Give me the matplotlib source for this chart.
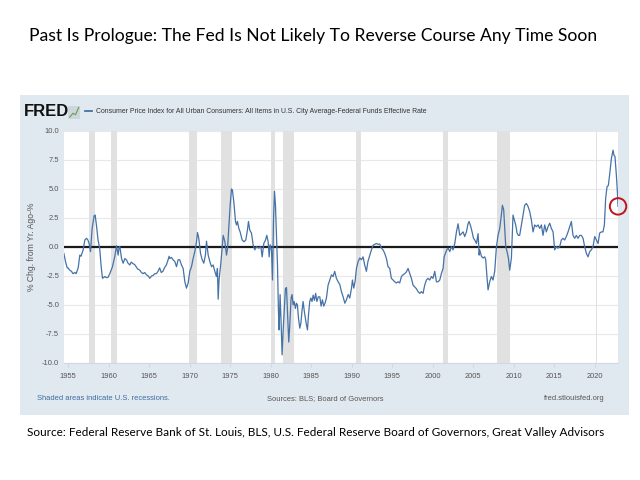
import matplotlib
matplotlib.use("Agg")
import matplotlib.pyplot as plt
from matplotlib.patches import Rectangle

# CPI yoy % change minus Fed funds rate (decimal years)
years = [
    1954.48, 1954.7, 1954.9, 1955.0, 1955.2, 1955.43, 1955.6, 1955.84, 1956.0, 1956.25,
    1956.45, 1956.6, 1956.86, 1957.07, 1957.28, 1957.45, 1957.6, 1957.77, 1957.97, 1958.22,
    1958.34, 1958.5, 1958.7, 1958.9, 1959.1, 1959.25, 1959.54, 1959.75, 1959.95, 1960.15,
    1960.48, 1960.77, 1960.98, 1961.18, 1961.3, 1961.39, 1961.6, 1961.8, 1962.0, 1962.2,
    1962.4, 1962.62, 1962.8, 1963.03, 1963.2, 1963.4, 1963.6, 1963.85, 1964.05, 1964.26,
    1964.45, 1964.68, 1964.9, 1965.09, 1965.3, 1965.5, 1965.7, 1965.9, 1966.1, 1966.3,
    1966.5, 1966.7, 1966.9, 1967.13, 1967.3, 1967.47, 1967.55, 1967.76, 1967.95, 1968.17,
    1968.38, 1968.58, 1968.78, 1968.99, 1969.2, 1969.41, 1969.61, 1969.82, 1970.02, 1970.23,
    1970.43, 1970.64, 1970.85, 1970.97, 1971.13, 1971.34, 1971.55, 1971.75, 1971.95, 1972.08,
    1972.29, 1972.49, 1972.7, 1972.9, 1973.11, 1973.31, 1973.43, 1973.52, 1973.64, 1973.85,
    1974.01, 1974.14, 1974.35, 1974.55, 1974.68, 1974.83, 1975.0, 1975.16, 1975.28, 1975.45,
    1975.66, 1975.78, 1975.9, 1976.07, 1976.23, 1976.48, 1976.7, 1976.93, 1977.13, 1977.26,
    1977.42, 1977.63, 1977.84, 1978.04, 1978.25, 1978.54, 1978.79, 1978.95, 1979.15, 1979.36,
    1979.52, 1979.69, 1979.81, 1979.93, 1980.1, 1980.22, 1980.35, 1980.47, 1980.59, 1980.71,
    1980.84, 1980.96, 1981.04, 1981.16, 1981.28, 1981.41, 1981.53, 1981.66, 1981.82, 1981.95,
    1982.07, 1982.23, 1982.35, 1982.52, 1982.64, 1982.77, 1982.9, 1983.05, 1983.18, 1983.3,
    1983.43, 1983.59, 1983.72, 1983.88, 1984.0, 1984.16, 1984.28, 1984.41, 1984.54, 1984.66,
    1984.82, 1984.95, 1985.1, 1985.24, 1985.4, 1985.55, 1985.7, 1985.87, 1986.06, 1986.22,
    1986.38, 1986.55, 1986.7, 1986.88, 1987.08, 1987.29, 1987.5, 1987.7, 1987.9, 1988.11,
    1988.32, 1988.53, 1988.73, 1988.94, 1989.15, 1989.35, 1989.56, 1989.76, 1989.97, 1990.09,
    1990.25, 1990.42, 1990.58, 1990.79, 1990.99, 1991.2, 1991.4, 1991.6, 1991.81, 1992.0,
    1992.23, 1992.43, 1992.64, 1992.84, 1993.05, 1993.25, 1993.46, 1993.66, 1993.87, 1994.07,
    1994.28, 1994.48, 1994.69, 1994.89, 1995.1, 1995.31, 1995.51, 1995.72, 1995.92, 1996.13,
    1996.33, 1996.54, 1996.74, 1996.95, 1997.16, 1997.36, 1997.57, 1997.77, 1997.98, 1998.18,
    1998.39, 1998.6, 1998.8, 1999.0, 1999.21, 1999.42, 1999.62, 1999.83, 2000.03, 2000.24,
    2000.45, 2000.65, 2000.86, 2001.06, 2001.27, 2001.4, 2001.56, 2001.72, 2001.89, 2002.1,
    2002.3, 2002.5, 2002.71, 2002.92, 2003.12, 2003.33, 2003.53, 2003.74, 2003.94, 2004.15,
    2004.35, 2004.48, 2004.69, 2004.85, 2005.02, 2005.18, 2005.39, 2005.59, 2005.72, 2005.79,
    2006.0, 2006.2, 2006.41, 2006.53, 2006.7, 2006.82, 2007.02, 2007.23, 2007.43, 2007.64,
    2007.85, 2008.05, 2008.26, 2008.46, 2008.59, 2008.75, 2008.87, 2009.0, 2009.16, 2009.33,
    2009.49, 2009.7, 2009.9, 2010.11, 2010.23, 2010.4, 2010.56, 2010.72, 2010.93, 2011.14,
    2011.34, 2011.55, 2011.75, 2011.96, 2012.16, 2012.37, 2012.57, 2012.78, 2012.99, 2013.19,
    2013.4, 2013.6, 2013.81, 2014.01, 2014.22, 2014.43, 2014.63, 2014.84, 2015.04, 2015.25,
    2015.45, 2015.66, 2015.86, 2016.07, 2016.27, 2016.48, 2016.69, 2016.89, 2017.1, 2017.3,
    2017.51, 2017.71, 2017.92, 2018.13, 2018.33, 2018.54, 2018.74, 2018.95, 2019.15, 2019.36,
    2019.56, 2019.77, 2019.98, 2020.18, 2020.39, 2020.59, 2020.8, 2021.0, 2021.17, 2021.33,
    2021.5, 2021.66, 2021.83, 2022.03, 2022.24, 2022.36, 2022.48, 2022.65, 2022.78, 2022.86,
]
values = [
    -0.55, -1.3, -1.8, -1.8, -2.0, -2.1, -2.3, -2.2, -2.3, -1.8,
    -0.7, -0.8, -0.25, 0.6, 0.75, 0.6, 0.3, -0.4, 1.6, 2.7,
    2.75, 1.9, 0.6, -0.1, -1.8, -2.7, -2.55, -2.65, -2.6, -2.3,
    -1.7, -0.8, 0.1, -0.7, 0.0, 0.03, -1.0, -1.4, -1.0, -1.1,
    -1.4, -1.55, -1.3, -1.45, -1.5, -1.7, -1.9, -2.0, -2.2, -2.3,
    -2.2, -2.4, -2.5, -2.7, -2.5, -2.45, -2.3, -2.3, -2.1, -1.8,
    -2.2, -2.1, -1.8, -1.55, -1.2, -0.8, -1.0, -0.9, -1.1, -1.25,
    -1.7, -1.1, -1.1, -1.55, -1.85, -3.0, -3.55, -3.1, -2.1, -1.7,
    -1.0, -0.4, 0.45, 1.25, 0.75, -0.55, -1.1, -1.4, -0.7, 0.5,
    -0.7, -1.25, -1.7, -1.55, -2.1, -2.55, -1.85, -4.5, -2.75, -1.4,
    -0.1, 1.0, 0.45, -0.7, -0.1, 1.6, 3.6, 5.0, 4.9, 3.9,
    2.2, 1.9, 2.2, 1.6, 1.3, 0.6, 0.45, 0.6, 1.45, 2.2,
    1.45, 1.2, 0.15, -0.25, 0.03, -0.1, 0.03, -0.85, 0.3, 0.6,
    1.0, 0.45, -0.85, 0.2, -0.25, -2.85, 2.4, 4.8, 3.6, 1.0,
    -1.6, -5.6, -7.15, -4.1, -6.4, -9.3, -7.3, -5.6, -3.6, -3.5,
    -5.6, -8.2, -6.8, -4.4, -4.1, -5.0, -4.7, -5.3, -4.85, -5.0,
    -6.15, -7.0, -6.6, -5.4, -4.7, -5.6, -6.15, -6.7, -7.15, -5.9,
    -4.7, -4.4, -4.7, -4.15, -4.6, -4.0, -4.7, -4.3, -4.3, -5.1,
    -4.55, -5.1, -4.85, -4.4, -3.3, -2.85, -2.4, -2.55, -2.1, -2.7,
    -3.0, -3.25, -3.85, -4.3, -4.85, -4.55, -4.1, -4.4, -3.55, -2.85,
    -3.55, -2.95, -1.85, -1.25, -0.95, -1.1, -0.85, -1.55, -2.1, -1.25,
    -0.7, -0.25, 0.15, 0.23, 0.3, 0.23, 0.25, -0.1, -0.25, -0.55,
    -1.0, -1.7, -1.85, -2.7, -2.85, -3.0, -3.1, -3.0, -3.1, -2.55,
    -2.4, -2.3, -2.15, -1.85, -2.3, -2.7, -3.3, -3.45, -3.6, -3.85,
    -4.0, -3.85, -4.0, -3.3, -2.85, -2.7, -2.85, -2.55, -2.7, -2.1,
    -3.0, -3.0, -2.85, -2.3, -1.85, -0.85, -0.55, -0.25, -0.1, -0.4,
    0.03, -0.25, 0.3, 1.3, 2.0, 1.0, 1.15, 1.3, 0.9, 1.3,
    2.0, 2.2, 1.75, 1.3, 0.75, 0.6, 0.3, 1.15, -0.7, -0.25,
    -0.8, -0.95, -0.85, -1.1, -2.7, -3.7, -3.0, -2.55, -2.85, -2.1,
    0.0, 1.0, 1.6, 2.75, 3.6, 3.2, 1.6, 0.03, -0.4, -0.95,
    -2.0, -0.95, 2.75, 2.2, 1.9, 1.2, 1.0, 1.0, 1.9, 2.75,
    3.6, 3.75, 3.5, 3.05, 2.35, 1.3, 1.9, 1.75, 1.9, 1.6,
    1.9, 1.0, 1.9, 1.3, 1.75, 2.05, 1.6, 1.3, -0.25, 0.03,
    -0.1, 0.03, 0.6, 0.75, 0.6, 0.9, 1.3, 1.75, 2.2, 1.0,
    0.75, 1.0, 0.75, 1.0, 1.0, 0.75, 0.03, -0.55, -0.85, -0.4,
    -0.25, 0.03, 0.9, 0.6, 0.3, 1.2, 1.3, 1.3, 1.9, 4.2,
    5.2, 5.3, 6.3, 7.6, 8.35, 7.9, 7.8, 6.2, 4.7, 3.5,
]

# NBER recessions (start, end) in decimal years
rec_start = [1957.6, 1960.3, 1969.95, 1973.85, 1980.0, 1981.5, 1990.5, 2001.2, 2007.95, 2020.1]
rec_end = [1958.3, 1961.1, 1970.9, 1975.2, 1980.55, 1982.9, 1991.2, 2001.9, 2009.5, 2020.3]

xticks = list(range(1955, 2021, 5))
yticks = [-10.0, -7.5, -5.0, -2.5, 0.0, 2.5, 5.0, 7.5, 10.0]

sans = "Liberation Sans"

fig = plt.figure(figsize=(6.4, 4.8), dpi=100)

# FRED panel background
fig.patches.append(Rectangle((0.03125, 0.1354), 0.9516, 0.6667, transform=fig.transFigure,
                             facecolor="#e1e9f0", edgecolor="none", zorder=-5))

fig.text(0.489, 0.926, "Past Is Prologue: The Fed Is Not Likely To Reverse Course Any Time Soon",
         ha="center", va="center", fontsize=12.65, family="Lato")
fig.text(0.042, 0.098, "Source: Federal Reserve Bank of St. Louis, BLS, U.S. Federal Reserve Board of Governors, Great Valley Advisors",
         ha="left", va="center", fontsize=8.5, family="Lato")

# FRED header
fig.text(0.038, 0.768, "FRED", ha="left", va="center", fontsize=12, fontweight="bold",
         color="#111111", family=sans)
# little chart icon next to the logo
fig.patches.append(Rectangle((0.107, 0.752), 0.018, 0.028, transform=fig.transFigure,
                             facecolor="#cdd6df", edgecolor="none"))
fig.lines.append(plt.Line2D([0.109, 0.114, 0.118, 0.123], [0.756, 0.764, 0.761, 0.776],
                            transform=fig.transFigure, color="#6f9e3f", lw=0.8))
fig.lines.append(plt.Line2D([0.133, 0.144], [0.768, 0.768], transform=fig.transFigure,
                            color="#4572a7", lw=1.3))
fig.text(0.15, 0.768, "Consumer Price Index for All Urban Consumers: All Items in U.S. City Average-Federal Funds Effective Rate",
         ha="left", va="center", fontsize=4.95, color="#333333", family=sans)

# footer inside panel
fig.text(0.058, 0.169, "Shaded areas indicate U.S. recessions.", ha="left", va="center",
         fontsize=5.4, color="#3d6a9e", family=sans)
fig.text(0.508, 0.169, "Sources: BLS; Board of Governors", ha="center", va="center",
         fontsize=5.4, color="#555555", family=sans)
fig.text(0.944, 0.169, "fred.stlouisfed.org", ha="right", va="center",
         fontsize=5.4, color="#555555", family=sans)

ax = fig.add_axes([0.1, 0.2438, 0.8656, 0.4833])
ax.set_facecolor("white")
for s, e in zip(rec_start, rec_end):
    ax.axvspan(s, e, color="#e1e1e1", lw=0, zorder=1)
ax.axhline(0, color="#1a1a1a", lw=1.6, zorder=3)
ax.plot(years, values, color="#4572a7", lw=0.9, zorder=4)
ax.scatter([years[-1]], [values[-1]], s=140, facecolors="none", edgecolors="#c0141b",
           linewidths=1.4, zorder=5, clip_on=False)

ax.set_xlim(1954.5, 2022.85)
ax.set_ylim(-10, 10)
ax.set_yticks(yticks)
ax.set_yticklabels([f"{v:.1f}" for v in yticks])
ax.set_xticks(xticks)
ax.grid(axis="y", color="#e8e8e8", lw=0.8, zorder=0)
ax.set_axisbelow(True)
for sp in ax.spines.values():
    sp.set_visible(False)
ax.spines["bottom"].set_visible(True)
ax.spines["bottom"].set_color("#cfd8e3")
for lbl in ax.get_xticklabels() + ax.get_yticklabels():
    lbl.set_family(sans)
ax.tick_params(axis="both", labelsize=5.4, labelcolor="#555555", length=0)
ax.tick_params(axis="x", length=3, color="#cfd8e3", pad=4)
ax.set_ylabel("% Chg. from Yr. Ago-%", fontsize=6.2, color="#555555", labelpad=4, family=sans)

fig.savefig("out.png", dpi=100)
